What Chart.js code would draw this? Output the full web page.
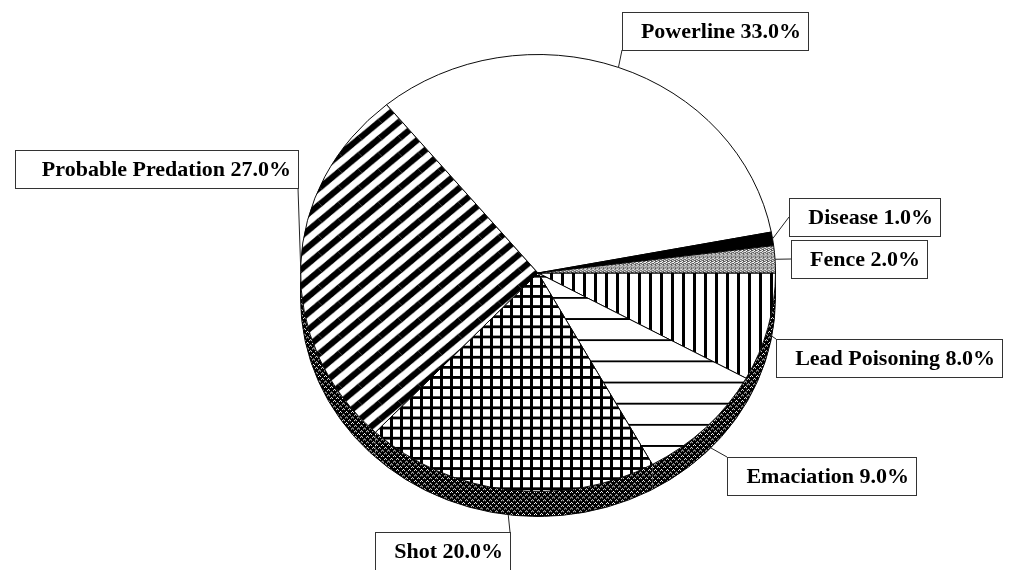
<!DOCTYPE html>
<html>
<head>
<meta charset="utf-8">
<script src="https://cdn.jsdelivr.net/npm/chart.js@4.4.0/dist/chart.umd.min.js"></script>
<style>
  html, body { margin: 0; padding: 0; background: #fff; }
</style>
</head>
<body>
<canvas id="myChart" width="1013" height="570"></canvas>
<script>
// data, clockwise from 3 o'clock
const causes = ["Lead Poisoning", "Emaciation", "Shot", "Probable Predation", "Powerline", "Disease", "Fence"];
const percents = [8, 9, 20, 27, 33, 1, 2];

// where each label box sits relative to its slice (corner of the box the leader goes to)
const labelLayout = [
  {corner: "tl", dx: 8, dy: 5, pad: 26},
  {corner: "tl", dx: 21, dy: 12, pad: 26},
  {corner: "tr", dx: 2, dy: 17, pad: 26},
  {corner: "br", dx: -3, dy: -78, pad: 34},
  {corner: "bl", dx: 4, dy: -17, pad: 26},
  {corner: "lm", dx: 16, dy: -22, pad: 26},
  {corner: "lm", dx: 16, dy: 0, pad: 26}
];

const tilt = 0.92;   // vertical squash of the pie top
const depth = 25;    // thickness of the pie edge

function tile(w, h, draw) {
  const c = document.createElement("canvas");
  c.width = w; c.height = h;
  const g = c.getContext("2d");
  g.fillStyle = "#fff";
  g.fillRect(0, 0, w, h);
  draw(g, w, h);
  return document.getElementById("myChart").getContext("2d").createPattern(c, "repeat");
}

const vLines = tile(11, 4, g => { g.fillStyle = "#000"; g.fillRect(0, 0, 3, 4); });
const hLines = tile(4, 23, g => { g.fillStyle = "#000"; g.fillRect(0, 0, 4, 2); });
const grid = tile(10, 11, g => {
  g.fillStyle = "#000";
  g.fillRect(0, 0, 3, 11);
  g.fillRect(0, 0, 10, 3);
});
const diag = tile(20, 18, (g, w, h) => {
  g.strokeStyle = "#000";
  g.lineWidth = 6.5;
  [[0, 0], [-w, 0], [w, 0], [0, -h], [0, h]].forEach(([ox, oy]) => {
    g.beginPath();
    g.moveTo(ox, h + oy);
    g.lineTo(w + ox, oy);
    g.stroke();
  });
});
const stipple = tile(4, 4, g => {
  g.fillStyle = "#555";
  [[0, 0], [2, 1], [1, 2], [3, 3], [0, 2], [2, 3], [3, 0]].forEach(([x, y]) => g.fillRect(x, y, 1, 1));
  g.fillStyle = "#aaa";
  [[1, 0], [3, 1], [3, 2], [1, 3]].forEach(([x, y]) => g.fillRect(x, y, 1, 1));
});
const sideDots = tile(6, 6, g => {
  g.fillStyle = "#000";
  g.fillRect(0, 0, 6, 6);
  g.fillStyle = "#fff";
  [[1, 0], [0, 1], [2, 1], [4, 3], [3, 4], [5, 4]].forEach(([x, y]) => g.fillRect(x, y, 1, 1));
});

const fills = [vLines, hLines, grid, diag, "#ffffff", "#000000", stipple];

const pie3d = {
  id: "pie3d",
  beforeDatasetsDraw(chart) {
    const ctx = chart.ctx;
    const arcs = chart.getDatasetMeta(0).data;
    const cx = arcs[0].x, cy = arcs[0].y, r = arcs[0].outerRadius;
    ctx.save();
    ctx.translate(cx, cy);
    ctx.scale(1, tilt);
    ctx.translate(-cx, -cy);
    const d = depth / tilt;
    arcs.forEach(arc => {
      const lo = Math.max(arc.startAngle, 0), hi = Math.min(arc.endAngle, Math.PI);
      if (hi <= lo) return;
      ctx.beginPath();
      ctx.arc(cx, cy, r, lo, hi);
      ctx.arc(cx, cy + d, r, hi, lo, true);
      ctx.closePath();
      ctx.fillStyle = sideDots;
      ctx.fill();
    });
    ctx.beginPath();
    ctx.moveTo(cx + r, cy);
    ctx.lineTo(cx + r, cy + d);
    ctx.arc(cx, cy + d, r, 0, Math.PI);
    ctx.lineTo(cx - r, cy);
    ctx.lineWidth = 1;
    ctx.strokeStyle = "#000";
    ctx.stroke();
  },
  afterDatasetsDraw(chart) {
    const ctx = chart.ctx;
    ctx.restore();
    const arcs = chart.getDatasetMeta(0).data;
    const cx = arcs[0].x, cy = arcs[0].y, r = arcs[0].outerRadius;
    ctx.font = "bold 22px 'Liberation Serif', 'Times New Roman', serif";
    ctx.textBaseline = "middle";
    ctx.textAlign = "right";
    arcs.forEach((arc, i) => {
      const mid = (arc.startAngle + arc.endAngle) / 2;
      const s = Math.sin(mid);
      const ax = cx + r * Math.cos(mid);
      const ay = cy + tilt * r * s + (s > 0 ? depth * s : 0);
      const text = causes[i] + " " + percents[i].toFixed(1) + "%";
      const lay = labelLayout[i];
      const w = Math.round(ctx.measureText(text).width + lay.pad), h = 38;
      const px = Math.round(ax + lay.dx), py = Math.round(ay + lay.dy);
      let bx, by;
      if (lay.corner === "tl") { bx = px; by = py; }
      else if (lay.corner === "tr") { bx = px - w; by = py; }
      else if (lay.corner === "bl") { bx = px; by = py - h; }
      else if (lay.corner === "br") { bx = px - w; by = py - h; }
      else { bx = px; by = py - h / 2; }
      ctx.strokeStyle = "#222";
      ctx.lineWidth = 1;
      ctx.beginPath();
      ctx.moveTo(ax, ay);
      ctx.lineTo(px, py);
      ctx.stroke();
      ctx.fillStyle = "#fff";
      ctx.fillRect(bx, by, w, h);
      ctx.strokeStyle = "#333";
      ctx.strokeRect(bx + 0.5, by + 0.5, w, h);
      ctx.fillStyle = "#000";
      ctx.fillText(text, bx + w - 7, by + h / 2 + 1);
    });
  }
};

new Chart("myChart", {
  type: "pie",
  data: {
    labels: causes,
    datasets: [{
      data: percents,
      backgroundColor: fills,
      borderColor: "#000",
      borderWidth: 1
    }]
  },
  options: {
    responsive: false,
    animation: false,
    rotation: 90,
    layout: {padding: {left: 300, right: 237, top: 35, bottom: 59}},
    plugins: {
      legend: {display: false},
      tooltip: {enabled: false}
    }
  },
  plugins: [pie3d]
});
</script>
</body>
</html>
